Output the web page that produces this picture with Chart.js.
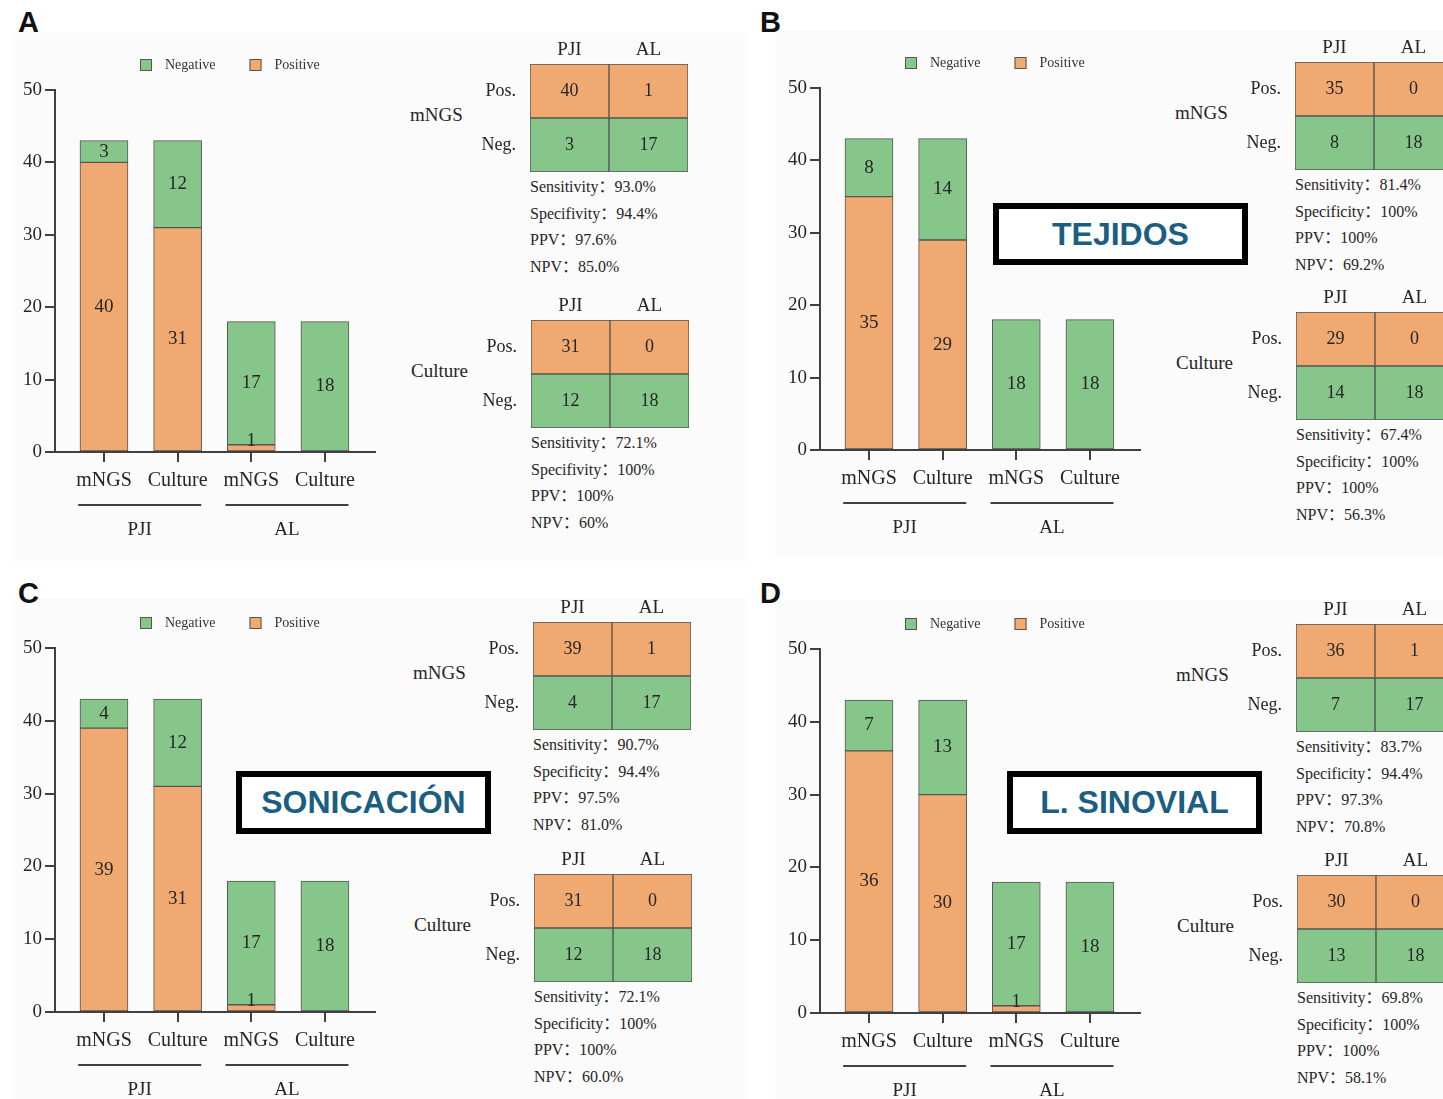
<!DOCTYPE html>
<html>
<head>
<meta charset="utf-8">
<title>mNGS vs Culture</title>
<script src="https://cdn.jsdelivr.net/npm/chart.js@4.4.1/dist/chart.umd.min.js"></script>
<style>
  html, body { margin: 0; padding: 0; background: #fff; overflow: hidden; }
  body { width: 1443px; height: 1099px; position: relative; font-family: 'Liberation Serif', 'Times New Roman', serif; color: #262626; }
  .abs { position: absolute; white-space: nowrap; }
  .bg { position: absolute; background: #fbfbfb; }
  .letter { font: bold 29px/29px 'Liberation Sans', Arial, sans-serif; color: #111; }
  .tag { position: absolute; box-sizing: border-box; border: 6px solid #000; background: #fff;
         display: flex; align-items: center; justify-content: center;
         font: bold 32px 'Liberation Sans', Arial, sans-serif; color: #1b5e82; }
  .side { font-size: 19px; line-height: 24px; }
  .stat { font-family: 'Liberation Serif', 'Noto Sans CJK SC', serif; font-size: 16px; line-height: 20px; }
</style>
</head>
<body>
<script>
// ---- categories and labels ----
const barCategories = ['mNGS', 'Culture', 'mNGS', 'Culture'];
const groupLabels = ['PJI', 'AL'];
const seriesNames = ['Positive', 'Negative'];
const yTicks = [0, 10, 20, 30, 40, 50];
const tableColumns = ['PJI', 'AL'];
const tableRows = ['Pos.', 'Neg.'];
const methods = ['mNGS', 'Culture'];
const panelLetters = ['A', 'B', 'C', 'D'];
const sampleTags = ['', 'TEJIDOS', 'SONICACIÓN', 'L. SINOVIAL'];

// ---- counts per bar: mNGS PJI, Culture PJI, mNGS AL, Culture AL ----
const positiveA = [40, 31, 1, 0];
const negativeA = [3, 12, 17, 18];
const positiveB = [35, 29, 0, 0];
const negativeB = [8, 14, 18, 18];
const positiveC = [39, 31, 1, 0];
const negativeC = [4, 12, 17, 18];
const positiveD = [36, 30, 1, 0];
const negativeD = [7, 13, 17, 18];

// ---- diagnostic performance (mNGS, Culture) ----
const sensitivityA = ['93.0%', '72.1%'];
const specificityA = ['94.4%', '100%'];
const ppvA = ['97.6%', '100%'];
const npvA = ['85.0%', '60%'];
const sensitivityB = ['81.4%', '67.4%'];
const specificityB = ['100%', '100%'];
const ppvB = ['100%', '100%'];
const npvB = ['69.2%', '56.3%'];
const sensitivityC = ['90.7%', '72.1%'];
const specificityC = ['94.4%', '100%'];
const ppvC = ['97.5%', '100%'];
const npvC = ['81.0%', '60.0%'];
const sensitivityD = ['83.7%', '69.8%'];
const specificityD = ['94.4%', '100%'];
const ppvD = ['97.3%', '100%'];
const npvD = ['70.8%', '58.1%'];
const specificityTerms = ['Specifivity', 'Specificity', 'Specificity', 'Specificity'];

const panels = [
  { pos: positiveA, neg: negativeA, sens: sensitivityA, spec: specificityA, ppv: ppvA, npv: npvA },
  { pos: positiveB, neg: negativeB, sens: sensitivityB, spec: specificityB, ppv: ppvB, npv: npvB },
  { pos: positiveC, neg: negativeC, sens: sensitivityC, spec: specificityC, ppv: ppvC, npv: npvC },
  { pos: positiveD, neg: negativeD, sens: sensitivityD, spec: specificityD, ppv: ppvD, npv: npvD }
];

// ---- page geometry of each panel ----
const frames = [
  { ax: 55,  y0: 452,  y50: 90,  tables: [[530, 64], [531, 320]],   letter: [18, 8],    tag: null,                  bg: [12, 33, 735, 528] },
  { ax: 820, y0: 450,  y50: 88,  tables: [[1295, 62], [1296, 312]], letter: [760, 8],   tag: [993, 203, 255, 62],   bg: [775, 30, 668, 528] },
  { ax: 55,  y0: 1012, y50: 648, tables: [[533, 622], [534, 874]],  letter: [18, 579],  tag: [236, 771, 255, 63],   bg: [12, 598, 735, 501] },
  { ax: 820, y0: 1013, y50: 649, tables: [[1296, 624], [1297, 875]], letter: [760, 579], tag: [1007, 771, 255, 63],  bg: [775, 600, 668, 499] }
];

const ORANGE = '#f0a970';
const GREEN = '#87c68b';
const EDGE = '#555555';
const INK = '#262626';
const AXIS = '#404040';
const SERIF = "'Liberation Serif', 'Times New Roman', serif";

Chart.defaults.font.family = SERIF;
Chart.defaults.color = INK;

// Legend row drawn above the plot, Negative first
const legendRow = {
  id: 'legendRow',
  afterDraw(chart, args, o) {
    const ctx = chart.ctx, a = chart.chartArea;
    ctx.save();
    ctx.font = o.font;
    ctx.textBaseline = 'middle';
    let x = a.left + o.offsetX;
    const y = a.top - o.offsetY;
    [...chart.data.datasets].reverse().forEach(ds => {
      ctx.fillStyle = ds.backgroundColor;
      ctx.fillRect(x, y - 6, 12, 12);
      ctx.strokeStyle = ds.borderColor;
      ctx.lineWidth = 1;
      ctx.strokeRect(x + 0.5, y - 5.5, 11, 11);
      ctx.fillStyle = o.color;
      ctx.fillText(ds.label, x + 25, y);
      x += 25 + ctx.measureText(ds.label).width + o.gap;
    });
    ctx.restore();
  }
};

// Count written in the middle of each bar segment / table cell
const segmentLabels = {
  id: 'segmentLabels',
  afterDatasetsDraw(chart, args, o) {
    const ctx = chart.ctx;
    ctx.save();
    ctx.font = o.font;
    ctx.fillStyle = o.color;
    ctx.textAlign = 'center';
    ctx.textBaseline = 'middle';
    chart.data.datasets.forEach((ds, di) => {
      chart.getDatasetMeta(di).data.forEach((el, k) => {
        const { x, y, base } = el.getProps(['x', 'y', 'base'], true);
        let text, cy = (y + base) / 2;
        if (ds.counts) {
          text = String(ds.counts[k]);
        } else {
          const v = ds.data[k].y;
          if (!v) return;
          text = String(v);
          if (Math.abs(base - y) < 16) cy = Math.min(y, base) - 4;
        }
        ctx.fillText(text, x, cy);
      });
    });
    ctx.restore();
  }
};

// Underline + group name under each pair of bars
const groupBrackets = {
  id: 'groupBrackets',
  afterDraw(chart, args, o) {
    const xs = chart.scales.x, b = chart.chartArea.bottom, ctx = chart.ctx;
    ctx.save();
    ctx.strokeStyle = AXIS;
    ctx.lineWidth = 2;
    ctx.font = o.font;
    ctx.fillStyle = INK;
    ctx.textAlign = 'center';
    ctx.textBaseline = 'middle';
    groupLabels.forEach((g, gi) => {
      const x1 = xs.getPixelForValue(gi * 2 + 0.65);
      const x2 = xs.getPixelForValue(gi * 2 + 2.32);
      ctx.beginPath();
      ctx.moveTo(x1, b + 53);
      ctx.lineTo(x2, b + 53);
      ctx.stroke();
      ctx.fillText(g, (x1 + x2) / 2, b + 78);
    });
    ctx.restore();
  }
};

function addCanvas(left, top, w, h) {
  const c = document.createElement('canvas');
  c.width = w;
  c.height = h;
  c.style.cssText = `position:absolute;left:${left}px;top:${top}px;width:${w}px;height:${h}px;`;
  document.body.appendChild(c);
  return c;
}

function addDiv(cls, left, top, text) {
  const d = document.createElement('div');
  d.className = cls;
  d.style.left = left + 'px';
  d.style.top = top + 'px';
  d.textContent = text;
  document.body.appendChild(d);
  return d;
}

function drawBars(p, f) {
  const padTop = 60, xAxisH = 40, padBottom = 70, yAxisW = 55, plotW = 320, padRight = 25;
  const w = yAxisW + plotW + padRight;
  const h = padTop + (f.y0 - f.y50) + xAxisH + padBottom;
  const cv = addCanvas(f.ax - yAxisW, f.y50 - padTop, w, h);
  const style = { borderColor: EDGE, borderWidth: 1, borderSkipped: false, barThickness: 48 };
  new Chart(cv, {
    type: 'bar',
    data: {
      datasets: [
        Object.assign({ label: seriesNames[0], data: p.pos.map((v, k) => ({ x: k + 1, y: v })), backgroundColor: ORANGE }, style),
        Object.assign({ label: seriesNames[1], data: p.neg.map((v, k) => ({ x: k + 1, y: v })), backgroundColor: GREEN }, style)
      ]
    },
    options: {
      responsive: false,
      animation: false,
      events: [],
      layout: { padding: { top: padTop, right: padRight, bottom: padBottom, left: 0 } },
      plugins: {
        legend: { display: false },
        tooltip: { enabled: false },
        legendRow: { font: '14px ' + SERIF, color: '#333', offsetX: 85, offsetY: 25, gap: 34 },
        segmentLabels: { font: '19px ' + SERIF, color: INK },
        groupBrackets: { font: '19px ' + SERIF }
      },
      scales: {
        x: {
          type: 'linear', stacked: true, min: 0.335, max: 4.68, offset: false, z: 1,
          afterBuildTicks: s => { s.ticks = barCategories.map((_, k) => ({ value: k + 1 })); },
          afterFit: s => { s.height = xAxisH; },
          ticks: { callback: v => barCategories[v - 1], font: { size: 20 }, color: INK, padding: 7, autoSkip: false, maxRotation: 0 },
          grid: { offset: false, drawOnChartArea: false, tickLength: 10, color: AXIS, lineWidth: 2 },
          border: { color: AXIS, width: 2 }
        },
        y: {
          stacked: true, min: 0, max: 50, z: 1,
          afterBuildTicks: s => { s.ticks = yTicks.map(v => ({ value: v })); },
          afterFit: s => { s.width = yAxisW; },
          ticks: { font: { size: 19 }, color: INK, padding: 3 },
          grid: { drawOnChartArea: false, tickLength: 10, color: AXIS, lineWidth: 2 },
          border: { color: AXIS, width: 2 }
        }
      }
    },
    plugins: [legendRow, segmentLabels, groupBrackets]
  });
}

// 2x2 table: every cell is one unit tall, the count is written inside
function drawTable(posRow, negRow, cell) {
  const axisH = 34, axisW = 60, cw = 158, ch = 108;
  const cv = addCanvas(cell[0] - axisW, cell[1] - axisH, axisW + cw + 2, axisH + ch + 2);
  const style = { borderColor: EDGE, borderWidth: 1, borderSkipped: false, barPercentage: 1, categoryPercentage: 1 };
  new Chart(cv, {
    type: 'bar',
    data: {
      labels: tableColumns,
      datasets: [
        Object.assign({ label: tableRows[1], data: negRow.map(() => 1), counts: negRow, backgroundColor: GREEN }, style),
        Object.assign({ label: tableRows[0], data: posRow.map(() => 1), counts: posRow, backgroundColor: ORANGE }, style)
      ]
    },
    options: {
      responsive: false,
      animation: false,
      events: [],
      layout: { padding: { top: 0, right: 2, bottom: 2, left: 0 } },
      plugins: {
        legend: { display: false },
        tooltip: { enabled: false },
        segmentLabels: { font: '18px ' + SERIF, color: INK }
      },
      scales: {
        x: {
          position: 'top', stacked: true,
          afterFit: s => { s.height = axisH; s.paddingLeft = 0; s.paddingRight = 0; },
          ticks: { font: { size: 19 }, color: INK, padding: 3 },
          grid: { display: false, drawTicks: false },
          border: { display: false }
        },
        y: {
          stacked: true, min: 0, max: 2,
          afterBuildTicks: s => { s.ticks = [{ value: 0.5 }, { value: 1.5 }]; },
          afterFit: s => { s.width = axisW; s.paddingTop = 0; s.paddingBottom = 0; },
          ticks: { callback: v => tableRows[v > 1 ? 0 : 1], font: { size: 18 }, color: INK, padding: 14 },
          grid: { display: false, drawTicks: false },
          border: { display: false }
        }
      }
    },
    plugins: [segmentLabels]
  });
}

panels.forEach((p, i) => {
  const f = frames[i];
  const bg = document.createElement('div');
  bg.className = 'bg';
  bg.style.cssText = `left:${f.bg[0]}px;top:${f.bg[1]}px;width:${f.bg[2]}px;height:${f.bg[3]}px;`;
  document.body.appendChild(bg);
});

panels.forEach((p, i) => {
  const f = frames[i];
  addDiv('abs letter', f.letter[0], f.letter[1], panelLetters[i]);
  drawBars(p, f);

  methods.forEach((m, mi) => {
    // mNGS uses bars 0 and 2, Culture uses bars 1 and 3
    const posRow = [p.pos[mi], p.pos[mi + 2]];
    const negRow = [p.neg[mi], p.neg[mi + 2]];
    const cell = f.tables[mi];
    drawTable(posRow, negRow, cell);
    addDiv('abs side', cell[0] - 120, cell[1] + 51 - 12, m);
    const lines = [
      'Sensitivity：' + p.sens[mi],
      specificityTerms[i] + '：' + p.spec[mi],
      'PPV：' + p.ppv[mi],
      'NPV：' + p.npv[mi]
    ];
    lines.forEach((t, li) => addDiv('abs stat', cell[0], Math.round(cell[1] + 108 + 15 + li * 26.5 - 10), t));
  });

  if (f.tag) {
    const t = document.createElement('div');
    t.className = 'tag';
    t.style.cssText = `left:${f.tag[0]}px;top:${f.tag[1]}px;width:${f.tag[2]}px;height:${f.tag[3]}px;`;
    t.textContent = sampleTags[i];
    document.body.appendChild(t);
  }
});
</script>
</body>
</html>
